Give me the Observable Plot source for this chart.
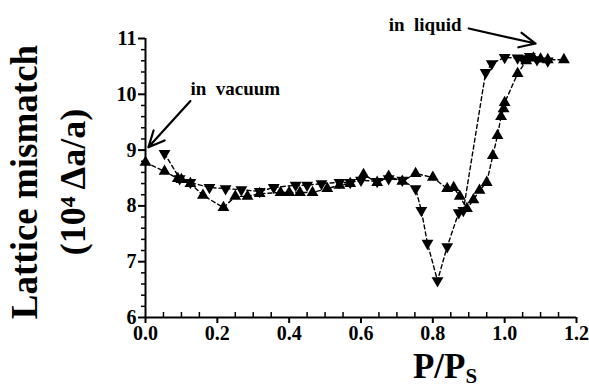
<!DOCTYPE html>
<html>
<head>
<meta charset="utf-8">
<script src="https://cdn.jsdelivr.net/npm/d3@7"></script>
<script src="https://cdn.jsdelivr.net/npm/@observablehq/plot@0.6"></script>
<style>
  html, body { margin: 0; padding: 0; background: #fff; }
  #chart svg { display: block; }
</style>
</head>
<body>
<div id="chart"></div>
<script>
// Adsorption branch (upward triangles): relative pressure and lattice mismatch
const upP = [0.0, 0.053, 0.09, 0.10, 0.125, 0.16, 0.217, 0.25, 0.284, 0.318, 0.376, 0.40, 0.43, 0.465, 0.506, 0.54, 0.57, 0.607, 0.645, 0.677, 0.715, 0.752, 0.80, 0.84, 0.858, 0.875, 0.895, 0.913, 0.93, 0.95, 0.967, 0.98, 0.99, 0.997, 1.0, 1.036, 1.06, 1.08, 1.10, 1.12, 1.165];
const upM = [8.78, 8.62, 8.49, 8.47, 8.40, 8.19, 7.97, 8.17, 8.17, 8.22, 8.24, 8.24, 8.24, 8.24, 8.31, 8.37, 8.40, 8.56, 8.42, 8.53, 8.44, 8.58, 8.51, 8.31, 8.33, 8.17, 7.95, 8.11, 8.28, 8.42, 8.90, 9.26, 9.60, 9.74, 9.85, 10.37, 10.60, 10.65, 10.63, 10.62, 10.62];

// Desorption branch (downward triangles)
const downP = [0.053, 0.095, 0.125, 0.178, 0.223, 0.267, 0.318, 0.357, 0.418, 0.45, 0.49, 0.54, 0.57, 0.60, 0.645, 0.677, 0.715, 0.752, 0.768, 0.785, 0.813, 0.84, 0.872, 0.885, 0.947, 0.964, 1.0, 1.036, 1.05, 1.07, 1.09, 1.12];
const downM = [8.94, 8.49, 8.42, 8.33, 8.31, 8.29, 8.26, 8.33, 8.37, 8.37, 8.40, 8.42, 8.42, 8.46, 8.44, 8.49, 8.46, 8.31, 7.92, 7.33, 6.66, 7.27, 7.88, 7.92, 10.39, 10.55, 10.66, 10.65, 10.64, 10.68, 10.62, 10.60];

// Axis ticks
const xTicks = [0.0, 0.2, 0.4, 0.6, 0.8, 1.0, 1.2];
const yTicks = [6, 7, 8, 9, 10, 11];
const xMinor = d3.range(0, 24).map(i => +(i * 0.05).toFixed(2)).filter(v => !xTicks.includes(v));
const yMinor = d3.range(0, 26).map(i => +(6 + i * 0.2).toFixed(1)).filter(v => !yTicks.includes(v));

// Annotations: label, text anchor point, arrow start and tip (data units)
const noteText = ["in  vacuum", "in  liquid"];
const noteX = [0.125, 0.677];
const noteY = [9.98, 11.14];
const arrowX1 = [0.125, 0.90];
const arrowY1 = [9.88, 11.18];
const arrowX2 = [0.008, 1.086];
const arrowY2 = [9.05, 10.91];

const up = upP.map((p, i) => ({p, m: upM[i]}));
const down = downP.map((p, i) => ({p, m: downM[i]}));
const notes = noteText.map((t, i) => ({t, x: noteX[i], y: noteY[i]}));
const arrows = arrowX1.map((x1, i) => ({x1, y1: arrowY1[i], x2: arrowX2[i], y2: arrowY2[i]}));

const serif = "'Liberation Serif', 'DejaVu Serif', serif";

const chart = Plot.plot({
  width: 589,
  height: 388,
  marginLeft: 145,
  marginRight: 13,
  marginTop: 38,
  marginBottom: 71,
  style: {fontFamily: serif, fontWeight: "bold", background: "#fff", color: "#000"},
  x: {domain: [0, 1.2]},
  y: {domain: [6, 11]},
  marks: [
    // minor y ticks (outward)
    Plot.axisY({ticks: yMinor, tickSize: 4, tickFormat: () => "", label: null, strokeWidth: 1.5}),
    // major y ticks and labels
    Plot.axisY({ticks: yTicks, tickSize: 7, tickPadding: 2, fontSize: 20, label: null,
                tickFormat: d => String(d), strokeWidth: 2}),
    // major x ticks and labels
    Plot.axisX({ticks: xTicks, tickSize: 6, tickPadding: 2, fontSize: 20, label: null,
                tickFormat: d => d.toFixed(1), strokeWidth: 2}),
    // minor x ticks (inward)
    Plot.tickX(xMinor, {x: d => d, insetTop: 274, strokeWidth: 1.5}),
    // axis lines
    Plot.ruleX([0], {strokeWidth: 2}),
    Plot.ruleY([6], {strokeWidth: 2}),
    // dashed connecting lines
    Plot.line(up, {x: "p", y: "m", stroke: "#000", strokeWidth: 1.4, strokeDasharray: "4,3"}),
    Plot.line(down, {x: "p", y: "m", stroke: "#000", strokeWidth: 1.4, strokeDasharray: "4,3"}),
    // markers
    Plot.dot(up, {x: "p", y: "m", symbol: "triangle", r: 4.4, fill: "#000", stroke: null}),
    Plot.dot(down, {x: "p", y: "m", symbol: "triangle", r: 4.4, fill: "#000", stroke: null, rotate: 180}),
    // annotations
    Plot.arrow(arrows, {x1: "x1", y1: "y1", x2: "x2", y2: "y2", stroke: "#000", strokeWidth: 2.2, headLength: 12, headAngle: 50}),
    Plot.text(notes, {x: "x", y: "y", text: "t", textAnchor: "start", lineAnchor: "bottom", fontSize: 19, fontWeight: "bold", fill: "#000"}),
    // y axis title, two lines
    Plot.text(["Lattice mismatch"], {frameAnchor: "left", textAnchor: "middle", dx: -109, dy: 4, rotate: -90, lineAnchor: "bottom", fontSize: 37, fontWeight: "bold", fill: "#000"}),
    Plot.text(["(10⁴ Δa/a)"], {frameAnchor: "left", textAnchor: "middle", dx: -61, dy: 4, rotate: -90, lineAnchor: "bottom", fontSize: 36, fontWeight: "bold", fill: "#000"})
  ]
});

// x axis title with a subscript
const svg = d3.select(chart);
const xt = svg.append("text")
  .attr("x", 445).attr("y", 378)
  .attr("font-family", serif).attr("font-weight", "bold")
  .attr("font-size", 35).attr("fill", "#000");
xt.append("tspan").text("P/P");
xt.append("tspan").attr("font-size", 21).attr("dy", 5).text("S");

document.getElementById("chart").append(chart);
</script>
</body>
</html>
